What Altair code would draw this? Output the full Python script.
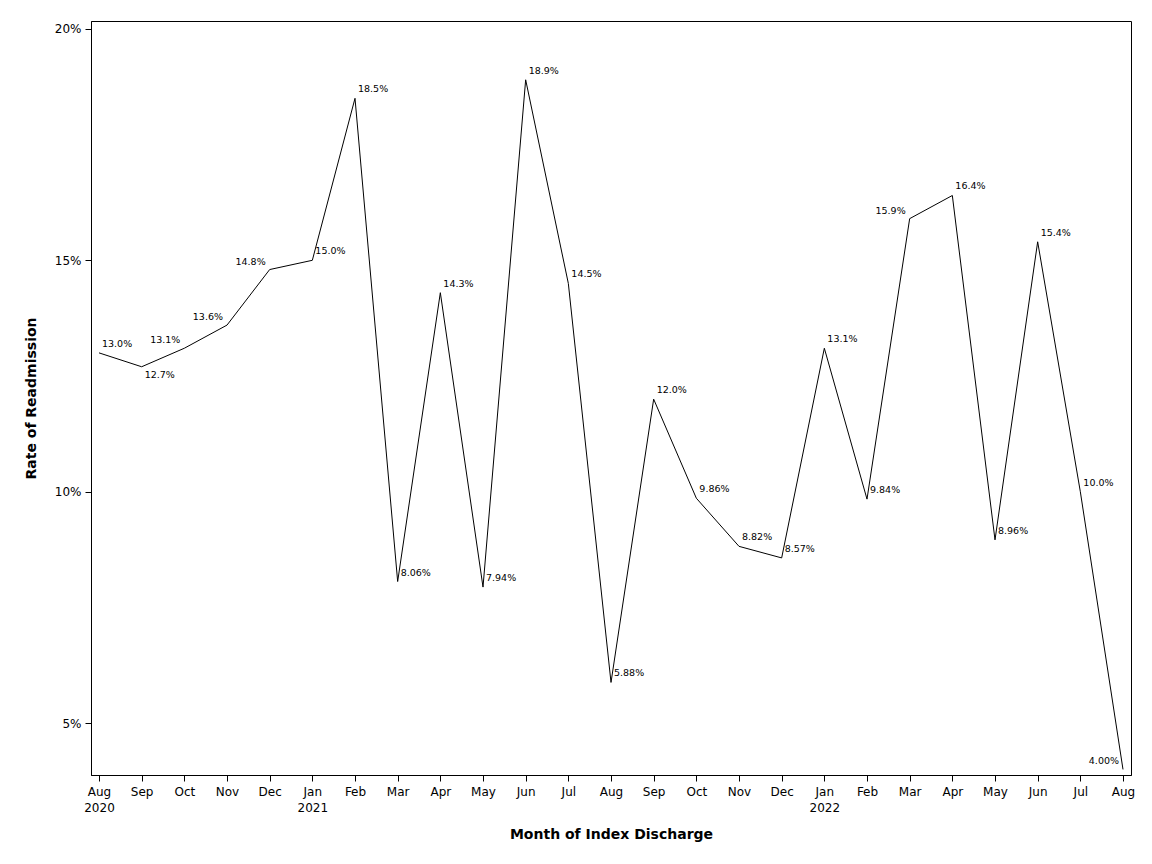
import altair as alt
import pandas as pd

MONTHS = ["Aug 2020", "Sep 2020", "Oct 2020", "Nov 2020", "Dec 2020",
          "Jan 2021", "Feb 2021", "Mar 2021", "Apr 2021", "May 2021", "Jun 2021",
          "Jul 2021", "Aug 2021", "Sep 2021", "Oct 2021", "Nov 2021", "Dec 2021",
          "Jan 2022", "Feb 2022", "Mar 2022", "Apr 2022", "May 2022", "Jun 2022",
          "Jul 2022", "Aug 2022"]
RATES = [13.0, 12.7, 13.1, 13.6, 14.8, 15.0, 18.5, 8.06, 14.3, 7.94, 18.9,
         14.5, 5.88, 12.0, 9.86, 8.82, 8.57, 13.1, 9.84, 15.9, 16.4, 8.96, 15.4,
         10.0, 4.00]
# Lado de la etiqueta: tr = arriba-dcha, tl = arriba-izda, br = abajo-dcha
LABEL_SIDE = ["tr", "br", "tl", "tl", "tl", "tr", "tr", "tr", "tr", "tr", "tr",
              "tr", "tr", "tr", "tr", "tr", "tr", "tr", "tr", "tl", "tr", "tr", "tr",
              "tr", "tl"]
Y_TICKS = [5, 10, 15, 20]

FONT = "DejaVu Sans"

df = pd.DataFrame({"month": MONTHS, "rate": RATES, "side": LABEL_SIDE})

x = alt.X(
    "month:O",
    sort=None,
    title="Month of Index Discharge",
    scale=alt.Scale(type="point", padding=0.1875),
    axis=alt.Axis(
        labelAngle=0,
        labelExpr=(
            "split(datum.label, ' ')[0] == 'Jan' || datum.label == 'Aug 2020'"
            " ? split(datum.label, ' ') : split(datum.label, ' ')[0]"
        ),
    ),
)
y = alt.Y(
    "rate:Q",
    title="Rate of Readmission",
    scale=alt.Scale(domain=[3.88, 20.17], nice=False, zero=False),
    axis=alt.Axis(values=Y_TICKS, labelExpr="datum.value + '%'"),
)

base = alt.Chart(df).transform_calculate(
    label="format(datum.rate / 100, '.3p')"
)

line = base.mark_line(color="black", strokeWidth=1).encode(x=x, y=y)

text_style = dict(font=FONT, fontSize=9.5, color="black")
right_up = base.transform_filter("datum.side == 'tr'").mark_text(
    align="left", baseline="middle", dx=3, dy=-9, **text_style
).encode(x=x, y=y, text="label:N")
left_up = base.transform_filter("datum.side == 'tl'").mark_text(
    align="right", baseline="middle", dx=-4, dy=-8, **text_style
).encode(x=x, y=y, text="label:N")
right_down = base.transform_filter("datum.side == 'br'").mark_text(
    align="left", baseline="middle", dx=3, dy=8, **text_style
).encode(x=x, y=y, text="label:N")

chart = (
    (line + right_up + left_up + right_down)
    .properties(
        width=1040,
        height=754,
        padding={"left": 16, "top": 13, "right": 5, "bottom": 5},
    )
    .configure_view(stroke="black", strokeWidth=1)
    .configure_axis(
        grid=False,
        domainColor="black",
        tickColor="black",
        tickSize=6,
        labelColor="black",
        labelFont=FONT,
        labelFontSize=12,
        titleFont=FONT,
        titleFontSize=14,
        titleFontWeight="bold",
        titleColor="black",
        labelPadding=4,
    )
    .configure_axisX(titlePadding=14, labelLineHeight=16, labelPadding=5)
    .configure_axisY(titlePadding=16)
)

chart.save("out.html", embed_options={"renderer": "svg", "actions": False})
